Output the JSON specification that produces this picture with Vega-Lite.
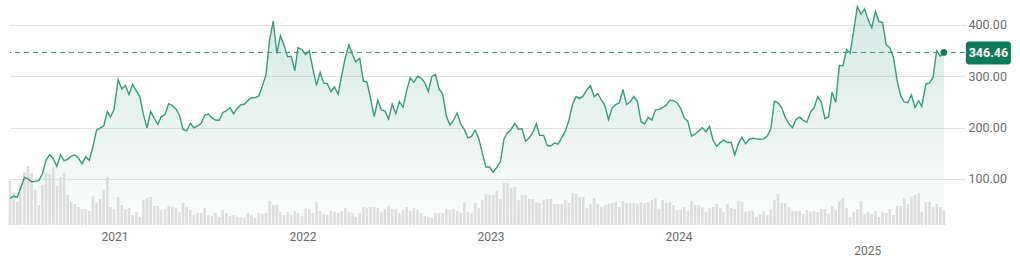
{
  "$schema": "https://vega.github.io/schema/vega-lite/v6.json",
  "width": 955,
  "height": 220,
  "autosize": {"type": "none"},
  "padding": {"left": 10, "top": 5, "right": 55, "bottom": 40},
  "background": "#ffffff",
  "config": {"view": {"stroke": null}, "font": "Roboto"},
  "datasets": {
    "w": [
      {"d":"2020-06-12","p":62.35,"v":44},{"d":"2020-06-19","p":66.73,"v":33},{"d":"2020-06-26","p":64.00,"v":23},{"d":"2020-07-02","p":80.58,"v":40},{"d":"2020-07-10","p":102.98,"v":53},{"d":"2020-07-17","p":100.06,"v":59},{"d":"2020-07-24","p":94.47,"v":52},{"d":"2020-07-31","p":95.38,"v":35},{"d":"2020-08-07","p":96.85,"v":20},{"d":"2020-08-14","p":110.05,"v":40},{"d":"2020-08-21","p":136.67,"v":52},{"d":"2020-08-28","p":147.56,"v":51},{"d":"2020-09-04","p":139.44,"v":58},{"d":"2020-09-11","p":124.24,"v":39},{"d":"2020-09-18","p":147.38,"v":48},{"d":"2020-09-25","p":135.78,"v":52},{"d":"2020-10-02","p":138.36,"v":30},{"d":"2020-10-09","p":144.67,"v":23},{"d":"2020-10-16","p":146.56,"v":21},{"d":"2020-10-23","p":140.21,"v":18},{"d":"2020-10-30","p":129.35,"v":16},{"d":"2020-11-06","p":143.32,"v":16},{"d":"2020-11-13","p":136.17,"v":14},{"d":"2020-11-20","p":163.20,"v":29},{"d":"2020-11-27","p":195.25,"v":22},{"d":"2020-12-04","p":199.68,"v":26},{"d":"2020-12-11","p":203.33,"v":35},{"d":"2020-12-18","p":231.67,"v":48},{"d":"2020-12-24","p":220.59,"v":18},{"d":"2020-12-31","p":235.22,"v":16},
      {"d":"2021-01-08","p":293.34,"v":28},{"d":"2021-01-15","p":275.39,"v":20},{"d":"2021-01-22","p":282.21,"v":16},{"d":"2021-01-29","p":264.51,"v":17},{"d":"2021-02-05","p":284.08,"v":10},{"d":"2021-02-12","p":272.04,"v":13},{"d":"2021-02-19","p":260.43,"v":8},{"d":"2021-02-26","p":225.17,"v":25},{"d":"2021-03-05","p":199.32,"v":27},{"d":"2021-03-12","p":231.24,"v":28},{"d":"2021-03-19","p":218.29,"v":19},{"d":"2021-03-26","p":206.24,"v":19},{"d":"2021-04-01","p":220.58,"v":15},{"d":"2021-04-09","p":225.67,"v":16},{"d":"2021-04-16","p":246.59,"v":19},{"d":"2021-04-23","p":243.13,"v":18},{"d":"2021-04-30","p":236.48,"v":17},{"d":"2021-05-07","p":224.12,"v":13},{"d":"2021-05-14","p":196.58,"v":22},{"d":"2021-05-21","p":193.63,"v":18},{"d":"2021-05-28","p":208.41,"v":15},{"d":"2021-06-04","p":199.68,"v":10},{"d":"2021-06-11","p":203.30,"v":12},{"d":"2021-06-18","p":207.77,"v":12},{"d":"2021-06-25","p":223.96,"v":17},{"d":"2021-07-02","p":226.30,"v":10},{"d":"2021-07-09","p":218.98,"v":9},{"d":"2021-07-16","p":214.74,"v":12},{"d":"2021-07-23","p":214.46,"v":8},{"d":"2021-07-30","p":229.07,"v":15},{"d":"2021-08-06","p":233.03,"v":12},{"d":"2021-08-13","p":239.06,"v":9},{"d":"2021-08-20","p":226.75,"v":10},{"d":"2021-08-27","p":237.31,"v":8},{"d":"2021-09-03","p":244.52,"v":8},{"d":"2021-09-10","p":245.42,"v":7},{"d":"2021-09-17","p":253.16,"v":12},{"d":"2021-09-24","p":258.13,"v":10},{"d":"2021-10-01","p":258.41,"v":7},{"d":"2021-10-08","p":261.83,"v":12},{"d":"2021-10-15","p":281.01,"v":11},{"d":"2021-10-22","p":303.23,"v":12},{"d":"2021-10-29","p":371.33,"v":24},{"d":"2021-11-05","p":407.36,"v":20},{"d":"2021-11-12","p":344.47,"v":20},{"d":"2021-11-19","p":379.02,"v":13},{"d":"2021-11-26","p":360.64,"v":10},{"d":"2021-12-03","p":338.32,"v":13},{"d":"2021-12-10","p":339.01,"v":10},{"d":"2021-12-17","p":310.86,"v":14},{"d":"2021-12-23","p":355.67,"v":12},{"d":"2021-12-31","p":352.26,"v":9},
      {"d":"2022-01-07","p":342.32,"v":17},{"d":"2022-01-14","p":349.87,"v":16},{"d":"2022-01-21","p":314.63,"v":12},{"d":"2022-01-28","p":282.12,"v":23},{"d":"2022-02-04","p":307.77,"v":14},{"d":"2022-02-11","p":286.67,"v":11},{"d":"2022-02-18","p":285.66,"v":10},{"d":"2022-02-25","p":269.96,"v":14},{"d":"2022-03-04","p":279.43,"v":13},{"d":"2022-03-11","p":265.12,"v":12},{"d":"2022-03-18","p":301.80,"v":14},{"d":"2022-03-25","p":336.88,"v":17},{"d":"2022-04-01","p":361.53,"v":13},{"d":"2022-04-08","p":341.83,"v":12},{"d":"2022-04-14","p":328.33,"v":8},{"d":"2022-04-22","p":335.02,"v":12},{"d":"2022-04-29","p":290.25,"v":18},{"d":"2022-05-06","p":288.55,"v":17},{"d":"2022-05-13","p":256.53,"v":18},{"d":"2022-05-20","p":221.30,"v":18},{"d":"2022-05-27","p":253.21,"v":17},{"d":"2022-06-03","p":234.52,"v":13},{"d":"2022-06-10","p":232.23,"v":16},{"d":"2022-06-17","p":216.76,"v":19},{"d":"2022-06-24","p":245.71,"v":16},{"d":"2022-07-01","p":227.26,"v":16},{"d":"2022-07-08","p":250.76,"v":12},{"d":"2022-07-15","p":240.07,"v":15},{"d":"2022-07-22","p":272.24,"v":18},{"d":"2022-07-29","p":297.15,"v":14},{"d":"2022-08-05","p":288.17,"v":17},{"d":"2022-08-12","p":300.03,"v":15},{"d":"2022-08-19","p":296.67,"v":12},{"d":"2022-08-26","p":288.09,"v":9},{"d":"2022-09-02","p":270.21,"v":8},{"d":"2022-09-09","p":299.68,"v":7},{"d":"2022-09-16","p":303.35,"v":12},{"d":"2022-09-23","p":275.33,"v":12},{"d":"2022-09-30","p":265.25,"v":12},{"d":"2022-10-07","p":223.07,"v":16},{"d":"2022-10-14","p":204.99,"v":15},{"d":"2022-10-21","p":214.44,"v":16},{"d":"2022-10-28","p":228.52,"v":14},{"d":"2022-11-04","p":207.47,"v":12},{"d":"2022-11-11","p":195.97,"v":23},{"d":"2022-11-18","p":180.19,"v":13},{"d":"2022-11-25","p":182.86,"v":12},{"d":"2022-12-02","p":194.86,"v":22},{"d":"2022-12-09","p":179.05,"v":17},{"d":"2022-12-16","p":150.23,"v":25},{"d":"2022-12-23","p":123.15,"v":31},{"d":"2022-12-30","p":123.18,"v":30},
      {"d":"2023-01-06","p":113.06,"v":30},{"d":"2023-01-13","p":122.40,"v":34},{"d":"2023-01-20","p":133.42,"v":26},{"d":"2023-01-27","p":177.90,"v":42},{"d":"2023-02-03","p":189.98,"v":42},{"d":"2023-02-10","p":196.89,"v":37},{"d":"2023-02-17","p":208.31,"v":38},{"d":"2023-02-24","p":196.88,"v":25},{"d":"2023-03-03","p":197.79,"v":30},{"d":"2023-03-10","p":173.44,"v":30},{"d":"2023-03-17","p":180.13,"v":26},{"d":"2023-03-24","p":190.41,"v":26},{"d":"2023-03-31","p":207.46,"v":23},{"d":"2023-04-06","p":185.06,"v":22},{"d":"2023-04-14","p":185.00,"v":25},{"d":"2023-04-21","p":165.08,"v":26},{"d":"2023-04-28","p":164.31,"v":26},{"d":"2023-05-05","p":170.06,"v":21},{"d":"2023-05-12","p":167.98,"v":21},{"d":"2023-05-19","p":180.14,"v":21},{"d":"2023-05-26","p":193.17,"v":25},{"d":"2023-06-02","p":213.97,"v":22},{"d":"2023-06-09","p":244.40,"v":32},{"d":"2023-06-16","p":260.54,"v":31},{"d":"2023-06-23","p":256.60,"v":28},{"d":"2023-06-30","p":261.77,"v":28},{"d":"2023-07-07","p":274.43,"v":17},{"d":"2023-07-14","p":281.38,"v":21},{"d":"2023-07-21","p":260.02,"v":27},{"d":"2023-07-28","p":266.44,"v":21},{"d":"2023-08-04","p":253.86,"v":18},{"d":"2023-08-11","p":242.65,"v":20},{"d":"2023-08-18","p":215.49,"v":21},{"d":"2023-08-25","p":238.59,"v":22},{"d":"2023-09-01","p":245.01,"v":23},{"d":"2023-09-08","p":248.50,"v":18},{"d":"2023-09-15","p":274.39,"v":24},{"d":"2023-09-22","p":244.88,"v":22},{"d":"2023-09-29","p":250.22,"v":22},{"d":"2023-10-06","p":260.53,"v":22},{"d":"2023-10-13","p":251.12,"v":21},{"d":"2023-10-20","p":211.99,"v":23},{"d":"2023-10-27","p":207.30,"v":22},{"d":"2023-11-03","p":219.96,"v":23},{"d":"2023-11-10","p":214.65,"v":25},{"d":"2023-11-17","p":234.30,"v":27},{"d":"2023-11-24","p":235.45,"v":16},{"d":"2023-12-01","p":238.83,"v":25},{"d":"2023-12-08","p":243.84,"v":22},{"d":"2023-12-15","p":253.50,"v":23},{"d":"2023-12-22","p":252.54,"v":20},{"d":"2023-12-29","p":248.48,"v":15},
      {"d":"2024-01-05","p":237.49,"v":15},{"d":"2024-01-12","p":218.89,"v":18},{"d":"2024-01-19","p":212.19,"v":14},{"d":"2024-01-26","p":183.25,"v":24},{"d":"2024-02-02","p":187.91,"v":20},{"d":"2024-02-09","p":193.57,"v":20},{"d":"2024-02-16","p":199.95,"v":18},{"d":"2024-02-23","p":191.97,"v":13},{"d":"2024-03-01","p":202.64,"v":17},{"d":"2024-03-08","p":175.34,"v":18},{"d":"2024-03-15","p":163.57,"v":21},{"d":"2024-03-22","p":170.83,"v":17},{"d":"2024-03-28","p":175.79,"v":13},{"d":"2024-04-05","p":171.11,"v":21},{"d":"2024-04-12","p":171.05,"v":17},{"d":"2024-04-19","p":147.05,"v":16},{"d":"2024-04-26","p":168.29,"v":24},{"d":"2024-05-03","p":181.19,"v":23},{"d":"2024-05-10","p":168.47,"v":13},{"d":"2024-05-17","p":177.46,"v":14},{"d":"2024-05-24","p":179.24,"v":14},{"d":"2024-05-31","p":178.08,"v":8},{"d":"2024-06-07","p":177.48,"v":11},{"d":"2024-06-14","p":178.01,"v":14},{"d":"2024-06-21","p":183.01,"v":10},{"d":"2024-06-28","p":197.88,"v":16},{"d":"2024-07-05","p":251.52,"v":25},{"d":"2024-07-12","p":248.23,"v":31},{"d":"2024-07-19","p":239.20,"v":22},{"d":"2024-07-26","p":219.80,"v":22},{"d":"2024-08-02","p":207.67,"v":18},{"d":"2024-08-09","p":200.00,"v":14},{"d":"2024-08-16","p":216.12,"v":14},{"d":"2024-08-23","p":220.32,"v":14},{"d":"2024-08-30","p":214.11,"v":11},{"d":"2024-09-06","p":210.73,"v":15},{"d":"2024-09-13","p":230.29,"v":13},{"d":"2024-09-20","p":238.25,"v":14},{"d":"2024-09-27","p":260.46,"v":13},{"d":"2024-10-04","p":250.08,"v":16},{"d":"2024-10-11","p":217.80,"v":16},{"d":"2024-10-18","p":220.70,"v":11},{"d":"2024-10-25","p":269.19,"v":19},{"d":"2024-11-01","p":248.98,"v":15},{"d":"2024-11-08","p":321.22,"v":24},{"d":"2024-11-15","p":320.72,"v":27},{"d":"2024-11-22","p":352.56,"v":17},{"d":"2024-11-29","p":345.16,"v":8},{"d":"2024-12-06","p":389.22,"v":13},{"d":"2024-12-13","p":436.23,"v":16},{"d":"2024-12-20","p":421.06,"v":24},{"d":"2024-12-27","p":431.66,"v":11},
      {"d":"2025-01-03","p":410.44,"v":13},{"d":"2025-01-10","p":394.74,"v":11},{"d":"2025-01-17","p":426.50,"v":14},{"d":"2025-01-24","p":406.58,"v":8},{"d":"2025-01-31","p":404.60,"v":13},{"d":"2025-02-07","p":361.62,"v":12},{"d":"2025-02-14","p":355.84,"v":16},{"d":"2025-02-21","p":337.80,"v":10},{"d":"2025-02-28","p":292.98,"v":19},{"d":"2025-03-07","p":262.67,"v":19},{"d":"2025-03-14","p":249.98,"v":27},{"d":"2025-03-21","p":248.71,"v":21},{"d":"2025-03-28","p":263.55,"v":28},{"d":"2025-04-04","p":239.43,"v":30},{"d":"2025-04-11","p":252.31,"v":32},{"d":"2025-04-17","p":241.37,"v":13},{"d":"2025-04-25","p":284.95,"v":23},{"d":"2025-05-02","p":287.21,"v":23},{"d":"2025-05-09","p":298.26,"v":18},{"d":"2025-05-16","p":349.98,"v":21},{"d":"2025-05-23","p":339.34,"v":18},{"d":"2025-05-30","p":346.46,"v":15}
    ],
    "last": [{"d":"2025-05-30","p":346.46}]
  },
  "resolve": {"scale": {"y": "independent"}},
  "layer": [
    {
      "data": {"name": "w"},
      "mark": {
        "type": "area",
        "clip": true,
        "color": {
          "gradient": "linear", "x1": 0, "y1": 0, "x2": 0, "y2": 1,
          "stops": [
            {"offset": 0, "color": "rgba(58,154,128,0.22)"},
            {"offset": 1, "color": "rgba(58,154,128,0.02)"}
          ]
        }
      },
      "encoding": {
        "x": {
          "field": "d", "type": "temporal",
          "scale": {"type": "utc", "nice": false, "padding": 0, "domain": [{"year": 2020, "month": 6, "date": 12, "utc": true}, {"year": 2025, "month": 7, "date": 10, "utc": true}]},
          "axis": {
            "title": null,
            "orient": "bottom",
            "tickCount": {"interval": "year", "step": 1},
            "labelExpr": "utcyear(datum.value) == 2025 ? ['', '2025'] : utcFormat(datum.value, '%Y')",
            "labelLineHeight": 14,
            "grid": false, "domain": false, "ticks": false,
            "labelFlush": false, "labelOverlap": false,
            "labelColor": "#6b6b6b", "labelFontSize": 12, "labelFont": "Roboto",
            "labelPadding": 6,
            "zindex": 1
          }
        },
        "y": {
          "field": "p", "type": "quantitative", "stack": null,
          "scale": {"domain": [10.3, 438.9], "zero": false, "nice": false},
          "axis": {
            "title": null, "orient": "right",
            "values": [100, 200, 300, 400], "format": ".2f",
            "grid": true, "gridColor": "#e3e3e3", "gridWidth": 1,
            "domain": false, "ticks": false,
            "labelPadding": 3, "labelColor": "#6b6b6b", "labelFontSize": 12.5, "labelFont": "Roboto"
          }
        }
      }
    },
    {
      "data": {"name": "w"},
      "mark": {"type": "bar", "size": 2.6, "color": "#dddddd"},
      "encoding": {
        "x": {"field": "d", "type": "temporal", "scale": {"type": "utc", "nice": false, "padding": 0, "domain": [{"year": 2020, "month": 6, "date": 12, "utc": true}, {"year": 2025, "month": 7, "date": 10, "utc": true}]}},
        "y": {"field": "v", "type": "quantitative", "axis": null, "scale": {"domain": [0, 220], "nice": false}}
      }
    },
    {
      "layer": [
        {
          "data": {"name": "w"},
          "mark": {"type": "line", "color": "#3a9a80", "strokeWidth": 1.4},
          "encoding": {
            "x": {"field": "d", "type": "temporal", "scale": {"type": "utc", "nice": false, "padding": 0, "domain": [{"year": 2020, "month": 6, "date": 12, "utc": true}, {"year": 2025, "month": 7, "date": 10, "utc": true}]}},
            "y": {"field": "p", "type": "quantitative", "axis": null, "scale": {"domain": [10.3, 438.9], "zero": false, "nice": false}}
          }
        },
        {
          "data": {"name": "last"},
          "mark": {"type": "rule", "color": "#3a9a80", "strokeDash": [5, 4], "strokeWidth": 1},
          "encoding": {
            "y": {"field": "p", "type": "quantitative", "axis": null}
          }
        },
        {
          "data": {"name": "last"},
          "mark": {"type": "point", "filled": true, "opacity": 1, "size": 45, "color": "#117a5a"},
          "encoding": {
            "x": {"field": "d", "type": "temporal"},
            "y": {"field": "p", "type": "quantitative", "axis": null}
          }
        },
        {
          "data": {"name": "last"},
          "mark": {"type": "rect", "color": "#0d7a5a", "cornerRadius": 3, "xOffset": 22, "x2Offset": 67, "yOffset": -11, "y2Offset": 12},
          "encoding": {
            "x": {"field": "d", "type": "temporal"},
            "x2": {"field": "d"},
            "y": {"field": "p", "type": "quantitative", "axis": null},
            "y2": {"field": "p"}
          }
        },
        {
          "data": {"name": "last"},
          "mark": {"type": "text", "color": "#ffffff", "fontWeight": "bold", "fontSize": 12.5, "font": "Roboto", "dx": 44.5, "dy": 1, "align": "center", "baseline": "middle"},
          "encoding": {
            "x": {"field": "d", "type": "temporal"},
            "y": {"field": "p", "type": "quantitative", "axis": null},
            "text": {"field": "p", "type": "quantitative", "format": ".2f"}
          }
        }
      ]
    }
  ]
}
